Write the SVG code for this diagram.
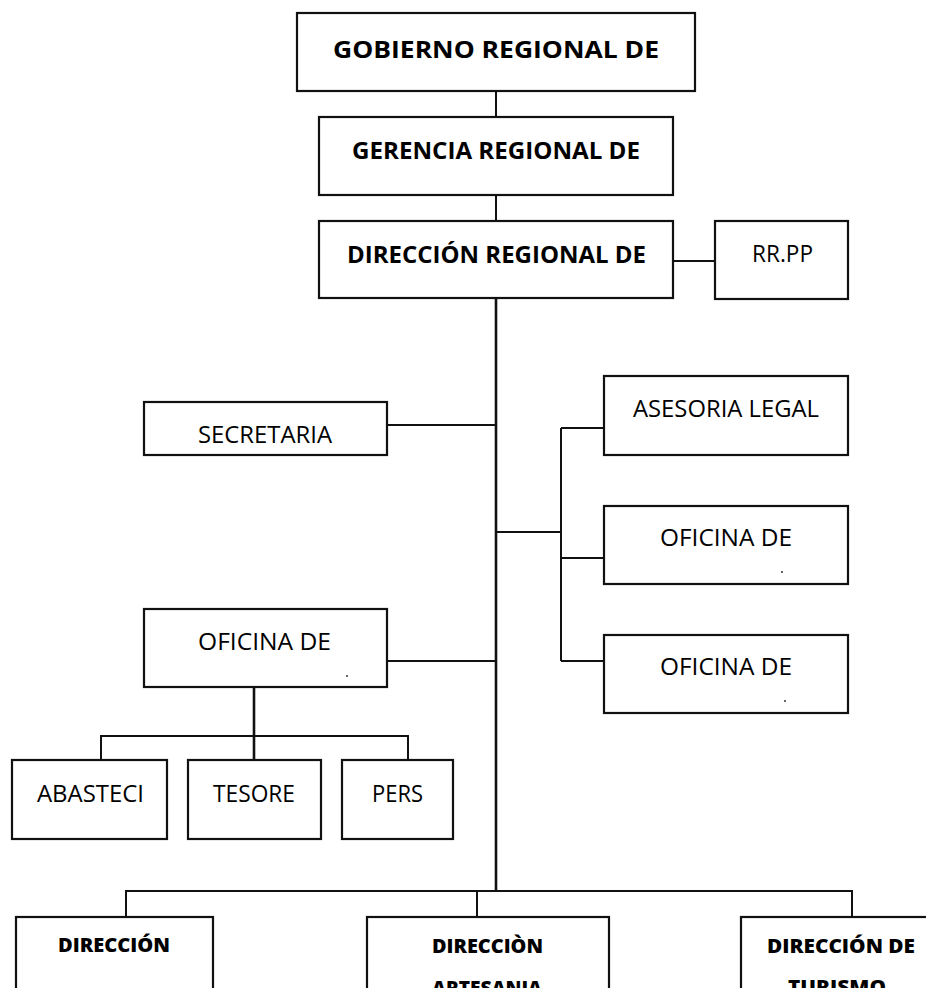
<svg xmlns="http://www.w3.org/2000/svg" width="926" height="988" viewBox="0 0 926 988">
<style>
.box{fill:#fff;stroke:#111;stroke-width:2.2}
.ln{fill:none;stroke:#111;stroke-width:2}
.main{fill:none;stroke:#111;stroke-width:2.6}
.t{font-family:"Open Sans","Noto Sans","DejaVu Sans",sans-serif;font-size:24px;fill:#000;text-anchor:middle}
.b{font-weight:bold}
.s{font-family:"Open Sans","Noto Sans","DejaVu Sans",sans-serif;font-size:20px;font-weight:800;fill:#000;text-anchor:middle}
</style>
<rect width="926" height="988" fill="#fff"/>
<g id="connectors">
<path class="ln" d="M496 91V117M496 195V221M673 261H715"/>
<path class="main" d="M496 298V891"/>
<path class="ln" d="M387 425H496M387 661H496M496 532H561M561 428V661M561 428H604M561 558H604M561 661H604"/>
<path class="main" d="M254 687V760"/>
<path class="ln" d="M101 760V736H408V760"/>
<path class="ln" d="M126 917V891H852V917M477 891V917"/>
</g>
<g id="gobierno"><rect class="box" x="297" y="13" width="398" height="78"/><text class="t b" x="496" y="58" font-size="28" textLength="326" lengthAdjust="spacingAndGlyphs">GOBIERNO REGIONAL DE</text></g>
<g id="gerencia"><rect class="box" x="319" y="117" width="354" height="78"/><text class="t b" x="496" y="159" font-size="26" textLength="288" lengthAdjust="spacingAndGlyphs">GERENCIA REGIONAL DE</text></g>
<g id="direccion-regional"><rect class="box" x="319" y="221" width="354" height="77"/><text class="t b" x="496.5" y="263" font-size="26" textLength="299" lengthAdjust="spacingAndGlyphs">DIRECCIÓN REGIONAL DE</text></g>
<g id="rrpp"><rect class="box" x="715" y="221" width="133" height="78"/><text class="t" x="782.5" y="262" textLength="61" lengthAdjust="spacingAndGlyphs">RR.PP</text></g>
<g id="secretaria"><rect class="box" x="144" y="402" width="243" height="53"/><text class="t" x="265" y="443" textLength="134" lengthAdjust="spacingAndGlyphs">SECRETARIA</text></g>
<g id="oficina-admin"><rect class="box" x="144" y="609" width="243" height="78"/><text class="t" x="264.5" y="650" textLength="133" lengthAdjust="spacingAndGlyphs">OFICINA DE</text><circle cx="347" cy="676" r="1" fill="#333"/></g>
<g id="asesoria"><rect class="box" x="604" y="376" width="244" height="79"/><text class="t" x="726" y="417" textLength="186" lengthAdjust="spacingAndGlyphs">ASESORIA LEGAL</text></g>
<g id="oficina-r1"><rect class="box" x="604" y="506" width="244" height="78"/><text class="t" x="726" y="546" textLength="132" lengthAdjust="spacingAndGlyphs">OFICINA DE</text><circle cx="782" cy="572" r="1" fill="#333"/></g>
<g id="oficina-r2"><rect class="box" x="604" y="635" width="244" height="78"/><text class="t" x="726" y="675" textLength="132" lengthAdjust="spacingAndGlyphs">OFICINA DE</text><circle cx="785" cy="701" r="1" fill="#333"/></g>
<g id="abastecimiento"><rect class="box" x="12" y="760" width="155" height="79"/><text class="t" x="90.5" y="802" textLength="107" lengthAdjust="spacingAndGlyphs">ABASTECI</text></g>
<g id="tesoreria"><rect class="box" x="188" y="760" width="133" height="79"/><text class="t" x="254" y="802" textLength="82" lengthAdjust="spacingAndGlyphs">TESORE</text></g>
<g id="personal"><rect class="box" x="342" y="760" width="111" height="79"/><text class="t" x="397.5" y="802" textLength="51" lengthAdjust="spacingAndGlyphs">PERS</text></g>
<g id="direccion-1"><rect class="box" x="16" y="917" width="197" height="90"/><text class="s" x="114" y="952" textLength="112" lengthAdjust="spacingAndGlyphs">DIRECCIÓN</text></g>
<g id="direccion-artesania"><rect class="box" x="367" y="917" width="242" height="90"/><text class="s" x="487.5" y="953" textLength="111" lengthAdjust="spacingAndGlyphs">DIRECCIÒN</text><text class="s" x="487" y="995" textLength="110" lengthAdjust="spacingAndGlyphs">ARTESANIA</text></g>
<g id="direccion-turismo"><rect class="box" x="741" y="917" width="222" height="90"/><text class="s" x="841" y="953" textLength="148" lengthAdjust="spacingAndGlyphs">DIRECCIÓN DE</text><text class="s" x="837" y="994" textLength="98" lengthAdjust="spacingAndGlyphs">TURISMO</text></g>
</svg>
